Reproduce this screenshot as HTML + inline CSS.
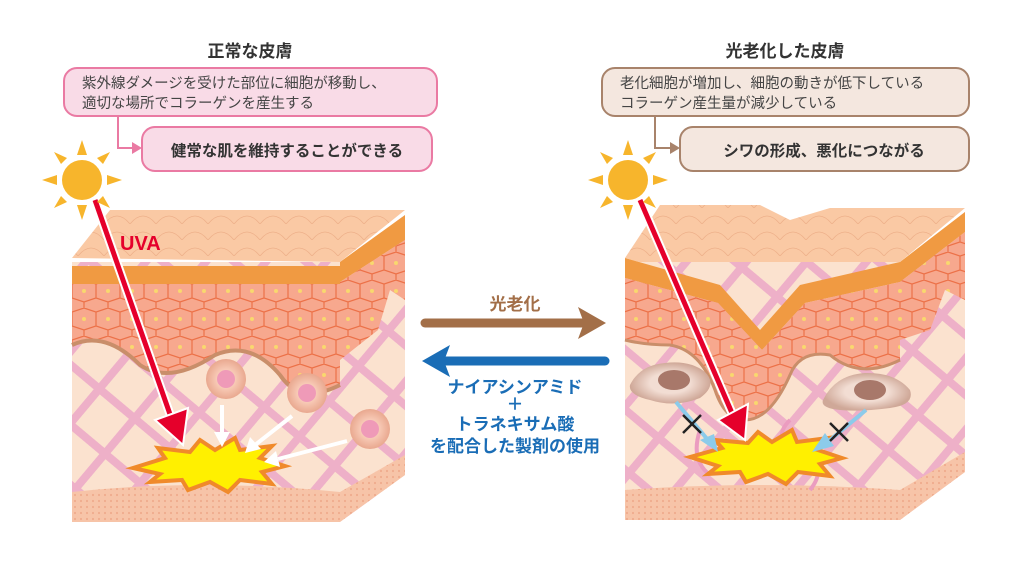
<!DOCTYPE html>
<html><head><meta charset="utf-8"><style>
html,body{margin:0;padding:0;background:#fff;width:1024px;height:580px;overflow:hidden}
svg{display:block}
text{font-family:"Liberation Sans","Noto Sans CJK JP",sans-serif}
</style></head><body>
<svg width="1024" height="580" viewBox="0 0 1024 580" xmlns="http://www.w3.org/2000/svg">
<defs>
<pattern id="hatch" width="46" height="46" patternUnits="userSpaceOnUse" patternTransform="rotate(40)">
<rect width="46" height="46" fill="#fbe2cf"/>
<rect x="0" y="0" width="8" height="46" fill="#eeb0c8"/>
<rect x="0" y="0" width="46" height="8" fill="#eeb0c8"/>
</pattern>
<pattern id="scale" width="26" height="16" patternUnits="userSpaceOnUse">
<rect width="26" height="16" fill="#fac9a4"/>
<path d="M0 16 Q13 0 26 16" fill="none" stroke="#eeb08a" stroke-width="0.8"/>
</pattern>
<pattern id="cells" width="24" height="28" patternUnits="userSpaceOnUse">
<rect width="24" height="28" fill="#f7a88e"/>
<path d="M0 4 L12 0 L24 4 M0 4 V18 L12 22 L24 18 V4 M12 22 V28" fill="none" stroke="#ec7148" stroke-width="1.2"/>
<circle cx="12" cy="11" r="2" fill="#f9d86e"/>
</pattern>
<pattern id="dots" width="6" height="6" patternUnits="userSpaceOnUse">
<rect width="6" height="6" fill="#f7c4a8"/><circle cx="3" cy="3" r="1.1" fill="#efac8d"/>
</pattern>
<radialGradient id="cellg"><stop offset="0.45" stop-color="#f8cbb7"/><stop offset="1" stop-color="#e9a88f"/></radialGradient>
<radialGradient id="fibg"><stop offset="0.5" stop-color="#f2ddd3"/><stop offset="1" stop-color="#cfa898"/></radialGradient>
</defs>

<text x="250" y="57" font-size="17" font-weight="bold" text-anchor="middle" fill="#333">正常な皮膚</text>
<text x="785" y="57" font-size="17" font-weight="bold" text-anchor="middle" fill="#333">光老化した皮膚</text>

<rect x="64" y="68" width="373" height="48" rx="13" fill="#f9dbe7" stroke="#ea7aa3" stroke-width="2"/>
<text x="82" y="88" font-size="14.5" fill="#444">紫外線ダメージを受けた部位に細胞が移動し、</text>
<text x="82" y="108" font-size="14.5" fill="#444">適切な場所でコラーゲンを産生する</text>
<path d="M118 116 V148 H134" fill="none" stroke="#ea7aa3" stroke-width="2"/>
<path d="M132 142 L142 148 L132 154 Z" fill="#ea7aa3"/>
<rect x="142" y="127" width="290" height="44" rx="13" fill="#f9dbe7" stroke="#ea7aa3" stroke-width="2"/>
<text x="287" y="156" font-size="15.5" font-weight="bold" text-anchor="middle" fill="#333">健常な肌を維持することができる</text>

<rect x="602" y="68" width="367" height="48" rx="13" fill="#f4e7df" stroke="#a8836b" stroke-width="2"/>
<text x="620" y="88" font-size="14.5" fill="#444">老化細胞が増加し、細胞の動きが低下している</text>
<text x="620" y="108" font-size="14.5" fill="#444">コラーゲン産生量が減少している</text>
<path d="M655 116 V148 H672" fill="none" stroke="#a8836b" stroke-width="2"/>
<path d="M670 142 L680 148 L670 154 Z" fill="#a8836b"/>
<rect x="680" y="127" width="289" height="44" rx="13" fill="#f4e7df" stroke="#a8836b" stroke-width="2"/>
<text x="824" y="156" font-size="15.5" font-weight="bold" text-anchor="middle" fill="#333">シワの形成、悪化につながる</text>

<!-- LEFT BLOCK -->
<g>
<path d="M340 262 L405 215 L405 475 L340 522 Z" fill="url(#hatch)"/>
<path d="M340 262 L405 215 L405 240 L340 282 Z" fill="#f09a42"/>
<path d="M340 282 L405 240 L405 300 L390 290 L378 330 L340 360 Z" fill="url(#cells)"/>
<path d="M340 492 L405 455 L405 475 L340 522 Z" fill="url(#dots)"/>
<path d="M72 258 L110 210 L405 210 L340 262 Z" fill="url(#scale)"/>
<rect x="72" y="262" width="268" height="260" fill="url(#hatch)"/>
<rect x="72" y="266" width="268" height="18" fill="#f09a42"/>
<path d="M72 284 H340 V385 Q300 405 280 375 Q250 340 215 355 Q170 385 140 365 Q105 330 72 345 Z" fill="url(#cells)"/>
<path d="M72 345 Q105 330 140 365 Q170 385 215 355 Q250 340 280 375 Q300 405 340 385" fill="none" stroke="#c98e6a" stroke-width="4"/>
<path d="M72 492 Q200 478 340 492 V522 H72 Z" fill="url(#dots)"/>
<circle cx="226" cy="379" r="20" fill="url(#cellg)"/><circle cx="226" cy="379" r="9" fill="#ef9ab8"/>
<circle cx="307" cy="393" r="20" fill="url(#cellg)"/><circle cx="307" cy="393" r="9" fill="#ef9ab8"/>
<circle cx="370" cy="429" r="20" fill="url(#cellg)"/><circle cx="370" cy="429" r="9" fill="#ef9ab8"/>
<path d="M133 468 L165 458 L158 448 L190 452 L200 440 L215 450 L235 438 L240 450 L272 446 L260 458 L285 466 L262 472 L272 484 L240 480 L228 492 L210 482 L188 490 L182 480 L150 482 L160 474 Z" fill="#fff000" stroke="#f08a2a" stroke-width="4"/>
<g stroke="#fff" stroke-width="4" fill="#fff">
<line x1="222" y1="405" x2="222" y2="435"/><path d="M214 432 L222 447 L230 432 Z" stroke="none"/>
<line x1="292" y1="416" x2="255" y2="445"/><path d="M250 437 L245 453 L261 449 Z" stroke="none"/>
<line x1="347" y1="441" x2="278" y2="459"/><path d="M276 451 L264 462 L280 467 Z" stroke="none"/>
</g>
<line x1="95" y1="200" x2="172" y2="420" stroke="#fff" stroke-width="9"/>
<line x1="95" y1="200" x2="172" y2="420" stroke="#e5002b" stroke-width="5"/>
<path d="M155 420 L183 445 L188 408 Z" fill="#e5002b" stroke="#fff" stroke-width="2"/>
<text x="120" y="250" font-size="20" font-weight="bold" fill="#e5002b">UVA</text>
</g>

<!-- RIGHT BLOCK -->
<g>
<path d="M900 262 L965 212 L965 472 L900 520 Z" fill="url(#hatch)"/>
<path d="M900 262 L965 212 L965 232 L900 282 Z" fill="#f09a42"/>
<path d="M900 282 L965 232 L965 300 L945 290 L930 330 L900 340 Z" fill="url(#cells)"/>
<path d="M900 490 L965 452 L965 472 L900 520 Z" fill="url(#dots)"/>
<path d="M625 258 L660 205 L760 205 L790 220 L830 208 L965 208 L900 262 L800 285 L760 330 L720 285 Z" fill="url(#scale)"/>
<rect x="625" y="262" width="275" height="258" fill="url(#hatch)"/>
<path d="M625 258 L720 285 L760 330 L800 285 L900 262 V282 L805 303 L762 350 L718 303 L625 278 Z" fill="#f09a42"/>
<path d="M625 278 L718 303 L762 350 L805 303 L900 282 V360 Q860 380 830 355 Q800 350 790 375 Q770 420 745 420 Q725 420 715 390 Q700 350 670 345 Q645 345 625 340 Z" fill="url(#cells)"/>
<path d="M625 340 Q645 345 670 345 Q700 350 715 390 Q725 420 745 420 Q770 420 790 375 Q800 350 830 355 Q860 380 900 360" fill="none" stroke="#c98e6a" stroke-width="3"/>
<path d="M625 490 Q760 480 900 490 V520 H625 Z" fill="url(#dots)"/>
<path d="M700 430 Q690 460 710 475 M790 420 Q770 440 800 450 Q830 465 810 490" fill="none" stroke="#eb9cc0" stroke-width="4"/>
<path d="M630 385 Q640 365 665 363 Q690 360 705 372 Q718 385 700 398 Q675 408 650 400 Q628 395 630 385 Z" fill="url(#fibg)"/>
<ellipse cx="674" cy="380" rx="16" ry="10" fill="#a8786a"/>
<path d="M823 400 Q835 375 865 373 Q895 372 910 390 Q915 405 890 408 Q860 412 840 410 Q820 408 823 400 Z" fill="url(#fibg)"/>
<ellipse cx="870" cy="390" rx="16" ry="10" fill="#a8786a"/>
<path d="M690 457 L722 448 L715 440 L748 443 L758 432 L772 442 L792 430 L797 442 L828 438 L818 450 L842 458 L820 464 L830 476 L798 472 L786 484 L768 474 L746 482 L740 472 L708 474 L718 466 Z" fill="#fff000" stroke="#f08a2a" stroke-width="4"/>
<g stroke="#8ccbea" stroke-width="4" fill="#8ccbea">
<line x1="676" y1="402" x2="708" y2="440"/><path d="M700 440 L718 452 L714 434 Z" stroke="none"/>
<line x1="866" y1="410" x2="830" y2="440"/><path d="M825 433 L812 452 L834 446 Z" stroke="none"/>
</g>
<g stroke="#222" stroke-width="2.5">
<line x1="683" y1="415" x2="701" y2="433"/><line x1="701" y1="415" x2="683" y2="433"/>
<line x1="830" y1="423" x2="848" y2="441"/><line x1="848" y1="423" x2="830" y2="441"/>
</g>
<line x1="640" y1="200" x2="735" y2="420" stroke="#fff" stroke-width="9"/>
<line x1="640" y1="200" x2="735" y2="420" stroke="#e5002b" stroke-width="5"/>
<path d="M718 420 L745 440 L748 404 Z" fill="#e5002b" stroke="#fff" stroke-width="2"/>
</g>

<g fill="#f7b52c">
<circle cx="82" cy="180" r="20"/>
<g id="rays">
<path d="M77 155 L82 140 L87 155Z"/><path d="M77 205 L82 220 L87 205Z"/>
<path d="M57 175 L42 180 L57 185Z"/><path d="M107 175 L122 180 L107 185Z"/>
<path d="M61 164 L54 152 L67 158Z"/><path d="M97 158 L110 152 L103 164Z"/>
<path d="M61 196 L54 208 L67 202Z"/><path d="M97 202 L110 208 L103 196Z"/>
</g>
<circle cx="628" cy="180" r="20"/>
<use href="#rays" transform="translate(546 0)"/>
</g>

<text x="515" y="310" font-size="17" font-weight="bold" text-anchor="middle" fill="#a36f48">光老化</text>
<line x1="425" y1="323" x2="592" y2="323" stroke="#a36f48" stroke-width="9" stroke-linecap="round"/>
<path d="M578 307 L606 323 L578 339 L584 323 Z" fill="#a36f48"/>
<line x1="605" y1="361" x2="438" y2="361" stroke="#1a6db6" stroke-width="9" stroke-linecap="round"/>
<path d="M450 345 L422 361 L450 377 L444 361 Z" fill="#1a6db6"/>
<g font-size="17" font-weight="bold" fill="#1a6db6" text-anchor="middle">
<text x="515" y="393">ナイアシンアミド</text>
<text x="515" y="410">＋</text>
<text x="515" y="430">トラネキサム酸</text>
<text x="515" y="452">を配合した製剤の使用</text>
</g>
</svg>
</body></html>
